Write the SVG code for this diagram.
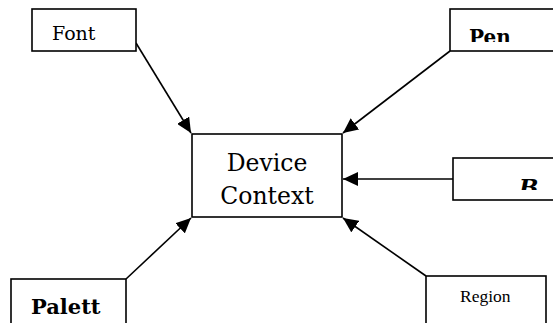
<svg xmlns="http://www.w3.org/2000/svg" width="553" height="323" viewBox="0 0 553 323">
<style>
.box{fill:#fff;stroke:#000;stroke-width:1.6}
.ln{stroke:#000;stroke-width:1.6;fill:none;marker-end:url(#ah)}
.t{font-family:"DejaVu Serif","Liberation Serif",serif;fill:#000}
.b{font-weight:bold}
</style>
<defs>
<marker id="ah" markerUnits="userSpaceOnUse" markerWidth="16" markerHeight="14" refX="15" refY="7" orient="auto">
<path d="M0,0 L15,7 L0,14 Z" fill="#000"/>
</marker>
<clipPath id="cpPen"><rect x="451" y="10" width="102" height="32"/></clipPath>
<clipPath id="cpB"><rect x="454" y="159" width="99" height="31"/></clipPath>
</defs>
<rect width="553" height="323" fill="#fff"/>
<g id="connectors">
<line class="ln" x1="136" y1="43" x2="191" y2="133"/>
<line class="ln" x1="450" y1="51" x2="343" y2="133"/>
<line class="ln" x1="453" y1="179" x2="343" y2="179"/>
<line class="ln" x1="126" y1="279" x2="191" y2="218"/>
<line class="ln" x1="426" y1="276" x2="343" y2="218"/>
</g>
<g id="font">
<rect class="box" x="32" y="9" width="104" height="42"/>
<text class="t" x="52" y="40" font-size="19">Font</text>
</g>
<g id="pen">
<rect class="box" x="450" y="9" width="105" height="42"/>
<text class="t b" x="469" y="44" font-size="20" clip-path="url(#cpPen)">Pen</text>
</g>
<g id="device-context">
<rect class="box" x="192" y="134" width="150" height="83"/>
<text class="t" x="267" y="171" font-size="23.5" text-anchor="middle">Device</text>
<text class="t" x="267" y="204" font-size="23.5" text-anchor="middle">Context</text>
</g>
<g id="brush">
<rect class="box" x="453" y="158" width="102" height="42"/>
<text class="t b" x="519" y="195" font-size="23" font-style="italic" clip-path="url(#cpB)">B</text>
</g>
<g id="palett">
<rect class="box" x="11" y="279" width="115" height="50"/>
<text class="t b" x="31" y="314" font-size="21">Palett</text>
</g>
<g id="region">
<rect class="box" x="426" y="276" width="120" height="52"/>
<text x="460" y="302" font-size="17.5" font-family="'Liberation Serif',serif">Region</text>
</g>
</svg>
